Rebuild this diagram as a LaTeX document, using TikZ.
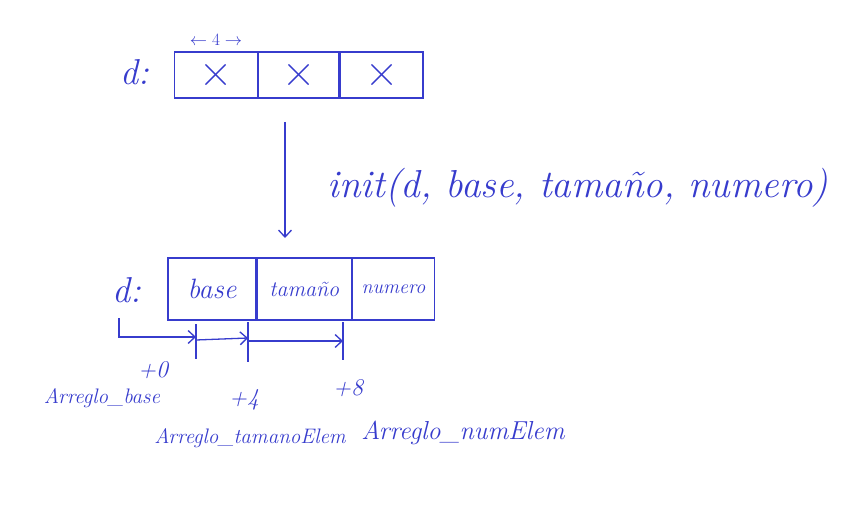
\documentclass[tikz,border=0pt]{standalone}
\usepackage{fontspec}
\usetikzlibrary{arrows.meta,positioning}
\definecolor{pen}{RGB}{55,60,205}

\begin{document}
\begin{tikzpicture}[x=1pt,y=-1pt,>={Straight Barb[length=7pt,width=13pt]},color=pen,line width=1.3pt,node distance=0pt,
                    cell/.style={rectangle,draw,inner sep=0pt,font=\itshape\fontsize{22}{24}\selectfont},
                    lbl/.style={inner sep=1pt,font=\itshape\fontsize{21}{23}\selectfont},
                    off/.style={inner sep=1pt,font=\itshape\fontsize{24}{26}\selectfont}]
  \useasboundingbox (0,0) rectangle (859,505);
  % d before init
  \node[lbl,font=\itshape\fontsize{36}{38}\selectfont] (d1) at (135,72) {d:};
  \node[cell,minimum width=83pt,minimum height=46pt,font=\fontsize{46}{48}\selectfont] (a1) at (216,75) {×};
  \node[cell,minimum width=80pt,minimum height=46pt,font=\fontsize{46}{48}\selectfont] (a2) [right=of a1] {×};
  \node[cell,minimum width=83pt,minimum height=46pt,font=\fontsize{46}{48}\selectfont] (a3) [right=of a2] {×};
  \node[lbl,font=\fontsize{18}{20}\selectfont] (w) [above=4pt of a1] {$\leftarrow 4 \rightarrow$};
  % the call
  \coordinate (arrtop) at (285,122);
  \coordinate (arrbot) at (285,238);
  \draw[->] (arrtop) -- (arrbot);
  \node[lbl,font=\itshape\fontsize{39}{41}\selectfont] (init) at (578,188) {init(d, base, tamaño, numero)};
  % d after init
  \node[lbl,font=\itshape\fontsize{36}{38}\selectfont] (d2) at (127,290) {d:};
  \node[cell,minimum width=88pt,minimum height=62pt,font=\itshape\fontsize{28}{30}\selectfont] (b1) at (212,289) {base};
  \node[cell,minimum width=94pt,minimum height=62pt] (b2) [right=of b1] {tamaño};
  \node[cell,minimum width=82pt,minimum height=62pt,font=\itshape\fontsize{20}{22}\selectfont] (b3) [right=of b2] {numero};
  % offsets
  \coordinate (o0) at (119,318);
  \coordinate (t0) at (196,324);
  \coordinate (t4) at (248,322);
  \coordinate (t8) at (343,322);
  \draw (t0) -- ++(0,35);
  \draw (t4) -- ++(0,40);
  \draw (t8) -- ++(0,38);
  \draw[->] (o0) |- ([yshift=-13pt]t0);
  \draw[->] ([yshift=-16pt]t0) -- ([yshift=-16pt]t4);
  \draw[->] ([yshift=-19pt]t4) -- ([yshift=-19pt]t8);
  \node[off] (p0) at (153,370) {+0};
  \node[off] (p4) at (244,400) {+4};
  \node[off] (p8) at (348,388) {+8};
  \node[lbl] (ab) at (102,398) {Arreglo\_base};
  \node[lbl] (at) at (250,438) {Arreglo\_tamanoElem};
  \node[lbl,font=\itshape\fontsize{26}{28}\selectfont] (an) at (463,433) {Arreglo\_numElem};
\end{tikzpicture}
\end{document}
